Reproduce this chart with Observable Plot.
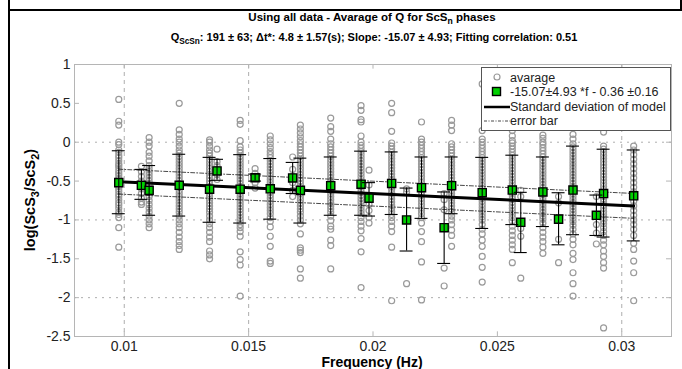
<!DOCTYPE html>
<html><head><meta charset="utf-8">
<script src="https://cdn.jsdelivr.net/npm/d3@7"></script>
<script src="https://cdn.jsdelivr.net/npm/@observablehq/plot@0.6"></script>
<style>
body{margin:0;background:#fff;}
#wrap{position:relative;width:682px;height:369px;overflow:hidden;font-family:"Liberation Sans",Arial,sans-serif;background:#fff;}
.t{position:absolute;white-space:nowrap;font-weight:bold;color:#000;transform:translateX(-50%);}
.t sub{font-size:75%;vertical-align:-0.35em;line-height:0;}
.bar{position:absolute;background:#000;}
#chart{position:absolute;left:0;top:0;}
</style></head><body>
<div id="wrap">
  <div id="chart"></div>
  <div class="bar" style="left:8px;top:0;width:2px;height:369px"></div>
  <div class="bar" style="left:8px;top:9px;width:674px;height:2px"></div>
  <div class="bar" style="left:680px;top:0;width:2px;height:10px"></div>
  <div class="t" style="left:372px;top:11px;font-size:11.5px;line-height:13px">Using all data - Avarage of Q for ScS<sub>n</sub> phases</div>
  <div class="t" style="left:374px;top:31px;font-size:11px;line-height:13px">Q<sub>ScSn</sub>: 191 ± 63; Δt*: 4.8 ± 1.57(s); Slope: -15.07 ± 4.93; Fitting correlation: 0.51</div>
  <div class="t" style="left:372px;top:355px;font-size:14px;line-height:15px">Frequency (Hz)</div>
  <div class="t" style="left:30px;top:200px;font-size:14.5px;line-height:16px;transform:translate(-50%,-50%) rotate(-90deg)">log(ScS<sub>3</sub>/ScS<sub>2</sub>)</div>
  <svg id="legend" style="position:absolute;left:481px;top:67px" width="190" height="64" font-family="Liberation Sans, Arial, sans-serif" font-size="12.5" fill="#222">
    <rect x="0.5" y="0.5" width="189" height="63" fill="#fff" stroke="#555"/>
    <circle cx="16" cy="10" r="3" fill="none" stroke="#999" stroke-width="1.2"/>
    <text x="29" y="14.5">avarage</text>
    <rect x="11.5" y="20.5" width="8" height="8" fill="#00d000" stroke="#000" stroke-width="1.4"/>
    <text x="29" y="29">-15.07±4.93 *f - 0.36 ±0.16</text>
    <line x1="3" x2="29" y1="40" y2="40" stroke="#000" stroke-width="2.5"/>
    <text x="29" y="44">Standard deviation of model</text>
    <line x1="3" x2="29" y1="54" y2="54" stroke="#333" stroke-width="0.9" stroke-dasharray="3,1.5,1,1.5"/>
    <text x="29" y="58">error bar</text>
  </svg>
</div>
<script>
const freqs = [0.00978,0.01069,0.0110,0.01221,0.01343,0.01373,0.01466,0.01526,0.01587,0.01677,0.01708,0.0183,0.01952,0.01984,0.02075,0.02135,0.02195,0.02286,0.02316,0.02439,0.0256,0.02594,0.02683,0.02746,0.02804,0.02898,0.02927,0.03048];
const means = [-0.52,-0.555,-0.62,-0.555,-0.605,-0.37,-0.605,-0.457,-0.60,-0.46,-0.62,-0.56,-0.54,-0.72,-0.53,-1.0,-0.585,-1.10,-0.56,-0.65,-0.615,-1.03,-0.64,-0.99,-0.615,-0.94,-0.66,-0.69];
const errLow = [-0.92,-0.735,-0.94,-0.95,-1.03,-0.49,-1.04,-0.50,-0.99,-0.66,-1.04,-0.94,-0.94,-0.95,-0.93,-1.40,-0.98,-1.56,-0.92,-1.11,-1.06,-1.42,-1.085,-1.32,-1.19,-1.20,-1.22,-1.27];
const errHigh = [-0.11,-0.35,-0.30,-0.155,-0.195,-0.22,-0.16,-0.41,-0.21,-0.26,-0.205,-0.19,-0.115,-0.52,-0.125,-0.59,-0.19,-0.64,-0.19,-0.195,-0.167,-0.645,-0.19,-0.65,-0.05,-0.68,-0.09,-0.10];
const samples = [
  [0.55,0.27,0.22,0.0,-0.03,-0.1,-0.13,-0.17,-0.2,-0.24,-0.28,-0.3,-0.33,-0.37,-0.4,-0.43,-0.47,-0.5,-0.54,-0.57,-0.6,-0.63,-0.67,-0.7,-0.74,-0.78,-0.81,-0.85,-0.9,-0.93,-0.97,-1.1,-1.35],
  [-0.31,-0.38,-0.44,-0.5,-0.55,-0.6,-0.66,-0.72,-0.77,-0.8],
  [0.06,0.0,-0.05,-0.13,-0.18,-0.24,-0.3,-0.34,-0.38,-0.42,-0.46,-0.5,-0.55,-0.6,-0.65,-0.7,-0.75,-0.8,-0.85,-0.9,-0.95,-1.0,-1.05,-1.1],
  [0.5,0.16,0.1,0.04,0.0,-0.05,-0.1,-0.14,-0.18,-0.22,-0.26,-0.3,-0.34,-0.38,-0.42,-0.46,-0.5,-0.54,-0.58,-0.62,-0.66,-0.7,-0.74,-0.78,-0.82,-0.86,-0.9,-0.95,-1.0,-1.05,-1.1,-1.16,-1.22,-1.28,-1.33,-1.38],
  [0.03,0.0,-0.05,-0.1,-0.14,-0.18,-0.22,-0.26,-0.3,-0.34,-0.38,-0.42,-0.46,-0.5,-0.54,-0.58,-0.62,-0.66,-0.7,-0.74,-0.78,-0.82,-0.86,-0.9,-0.95,-1.0,-1.05,-1.1,-1.16,-1.22,-1.28,-1.4,-1.45,-1.5],
  [-0.09,-0.25,-0.3,-0.35,-0.42,-0.48],
  [0.28,0.23,0.02,-0.06,-0.1,-0.14,-0.18,-0.22,-0.26,-0.3,-0.34,-0.38,-0.42,-0.46,-0.5,-0.54,-0.58,-0.62,-0.66,-0.7,-0.74,-0.78,-0.82,-0.86,-0.9,-0.94,-0.98,-1.02,-1.06,-1.1,-1.15,-1.21,-1.41,-1.51,-1.58,-1.98],
  [-0.34,-0.4,-0.46,-0.52,-0.59],
  [0.08,0.03,-0.02,-0.07,-0.12,-0.16,-0.2,-0.24,-0.28,-0.32,-0.36,-0.4,-0.44,-0.48,-0.52,-0.56,-0.6,-0.64,-0.68,-0.72,-0.76,-0.8,-0.84,-0.88,-0.92,-0.97,-1.02,-1.09,-1.21,-1.34,-1.53,-1.56],
  [-0.19,-0.35,-0.44,-0.52,-0.62,-0.7],
  [0.22,0.17,0.12,0.07,0.02,-0.02,-0.06,-0.1,-0.14,-0.18,-0.22,-0.26,-0.3,-0.34,-0.38,-0.42,-0.46,-0.5,-0.54,-0.58,-0.62,-0.66,-0.7,-0.74,-0.78,-0.82,-0.86,-0.9,-0.95,-1.0,-1.05,-1.18,-1.36,-1.39,-1.42,-1.63,-1.75],
  [0.31,0.2,0.14,0.04,-0.02,-0.06,-0.1,-0.14,-0.18,-0.22,-0.26,-0.3,-0.34,-0.38,-0.42,-0.46,-0.5,-0.54,-0.58,-0.62,-0.66,-0.7,-0.74,-0.78,-0.82,-0.86,-0.9,-0.95,-1.01,-1.08,-1.12,-1.26,-1.33,-1.63],
  [0.47,0.41,0.29,0.26,0.08,0.0,-0.04,-0.08,-0.12,-0.16,-0.2,-0.24,-0.28,-0.32,-0.36,-0.4,-0.44,-0.48,-0.52,-0.56,-0.6,-0.64,-0.68,-0.72,-0.76,-0.8,-0.84,-0.88,-0.92,-0.97,-1.02,-1.08,-1.14,-1.24,-1.41,-1.87],
  [-0.36,-0.55,-0.8,-0.88,-0.97,-1.04],
  [0.5,0.38,0.14,-0.01,-0.05,-0.09,-0.13,-0.17,-0.21,-0.25,-0.29,-0.33,-0.37,-0.41,-0.45,-0.49,-0.53,-0.57,-0.61,-0.65,-0.69,-0.73,-0.77,-0.81,-0.85,-0.89,-0.93,-0.97,-1.02,-1.08,-1.15,-1.35,-2.04],
  [-0.6,-0.64,-1.82],
  [0.26,0.04,0.0,-0.04,-0.08,-0.12,-0.16,-0.2,-0.24,-0.28,-0.32,-0.36,-0.4,-0.44,-0.48,-0.52,-0.56,-0.6,-0.64,-0.68,-0.72,-0.76,-0.8,-0.84,-0.88,-0.92,-0.97,-1.04,-1.15,-1.28,-1.54,-2.03],
  [-0.66,-0.74,-0.87,-1.62,-1.85],
  [0.28,0.22,0.15,-0.02,-0.06,-0.1,-0.14,-0.18,-0.22,-0.26,-0.3,-0.34,-0.38,-0.42,-0.46,-0.5,-0.54,-0.58,-0.62,-0.66,-0.7,-0.74,-0.78,-0.82,-0.86,-0.9,-0.95,-1.0,-1.06,-1.13,-1.2,-1.34],
  [0.75,0.15,0.04,0.0,-0.04,-0.08,-0.12,-0.16,-0.2,-0.24,-0.28,-0.32,-0.36,-0.4,-0.44,-0.48,-0.52,-0.56,-0.6,-0.64,-0.68,-0.72,-0.76,-0.8,-0.84,-0.88,-0.92,-0.96,-1.0,-1.06,-1.12,-1.18,-1.26,-1.34,-1.47,-1.61,-1.8],
  [0.27,0.21,0.15,0.08,0.02,-0.01,-0.05,-0.09,-0.13,-0.17,-0.21,-0.25,-0.29,-0.33,-0.37,-0.41,-0.45,-0.49,-0.53,-0.57,-0.61,-0.65,-0.69,-0.73,-0.77,-0.81,-0.85,-0.89,-0.93,-0.97,-1.02,-1.08,-1.14,-1.2,-1.26,-1.32,-1.38,-1.55],
  [-0.62,-0.7,-1.11,-1.21,-1.75],
  [0.09,0.05,0.0,-0.03,-0.07,-0.11,-0.15,-0.19,-0.23,-0.27,-0.31,-0.35,-0.39,-0.43,-0.47,-0.51,-0.55,-0.59,-0.63,-0.67,-0.71,-0.75,-0.79,-0.83,-0.87,-0.91,-0.95,-0.99,-1.04,-1.1,-1.16,-1.22,-1.28,-1.35,-1.43],
  [-0.7,-0.78,-1.25,-1.55],
  [0.1,0.04,-0.02,-0.06,-0.1,-0.14,-0.18,-0.22,-0.26,-0.3,-0.34,-0.38,-0.42,-0.46,-0.5,-0.54,-0.58,-0.62,-0.66,-0.7,-0.74,-0.78,-0.82,-0.86,-0.9,-0.94,-0.98,-1.02,-1.07,-1.12,-1.18,-1.25,-1.32,-1.43,-1.51,-1.68,-1.82,-1.98],
  [-0.7,-1.06,-1.17,-1.31],
  [0.13,-0.05,-0.09,-0.13,-0.17,-0.21,-0.25,-0.29,-0.33,-0.37,-0.41,-0.45,-0.49,-0.53,-0.57,-0.61,-0.65,-0.69,-0.73,-0.77,-0.81,-0.85,-0.89,-0.93,-0.97,-1.01,-1.05,-1.1,-1.15,-1.2,-1.26,-1.32,-1.4,-1.47,-1.55,-1.62,-2.39],
  [-0.05,-0.1,-0.16,-0.22,-0.28,-0.34,-0.4,-0.46,-0.52,-0.58,-0.64,-0.7,-0.76,-0.82,-0.88,-0.94,-1.0,-1.06,-1.12,-1.2,-1.3,-1.38,-1.53,-1.68,-2.04]
];
const xTicks = [0.01,0.015,0.02,0.025,0.03];
const yTicks = [1,0.5,0,-0.5,-1,-1.5,-2,-2.5];
const xGrid = [0.01,0.015,0.03];
const yGrid = [0,-1,-2];
const slope = -15.07, intercept = -0.36, band = 0.16;

const xDom = [0.008,0.032], yDom = [-2.5,1];
const pts = samples.flatMap((vals,i)=>vals.map(v=>({f:freqs[i], v})));
const bins = freqs.map((f,i)=>({f, m:means[i], lo:errLow[i], hi:errHigh[i]}));
const ends = [freqs[0], freqs[freqs.length-1]];
const fit = ends.map(f=>({f, y:slope*f+intercept}));
const fitUp = ends.map(f=>({f, y:slope*f+intercept+band}));
const fitDn = ends.map(f=>({f, y:slope*f+intercept-band}));
const cap = 0.00026, tx = 0.0002, ty = 0.06;
const fmt = d => String(d);

const chart = Plot.plot({
  width: 682, height: 369,
  marginLeft: 74, marginRight: 11, marginTop: 64, marginBottom: 33,
  x: {domain: xDom}, y: {domain: yDom},
  style: {fontFamily: "Liberation Sans, Arial, sans-serif", fontSize: "14px", color: "#222", background: "transparent"},
  marks: [
    Plot.ruleX(xGrid, {stroke: "#999", strokeWidth: 0.8, strokeDasharray: "4,4"}),
    Plot.ruleY(yGrid, {stroke: "#999", strokeWidth: 0.8, strokeDasharray: "2,5"}),
    Plot.frame({stroke: "#b5b5b5"}),
    Plot.ruleY(yTicks, {x1: xDom[0], x2: xDom[0] + tx, stroke: "#b5b5b5"}),
    Plot.ruleY(yTicks, {x1: xDom[1] - tx, x2: xDom[1], stroke: "#b5b5b5"}),
    Plot.ruleX(xTicks, {y1: yDom[0], y2: yDom[0] + ty, stroke: "#b5b5b5"}),
    Plot.ruleX(xTicks, {y1: yDom[1] - ty, y2: yDom[1], stroke: "#b5b5b5"}),
    Plot.axisX(xTicks, {tickSize: 0, tickPadding: 5, tickFormat: fmt, fontSize: 14, label: null}),
    Plot.axisY(yTicks, {tickSize: 0, tickPadding: 4, tickFormat: fmt, fontSize: 14, label: null}),
    Plot.dot(pts, {x: "f", y: "v", r: 3, fill: "none", stroke: "#9a9a9a", strokeWidth: 1.2}),
    Plot.line(fitUp, {x: "f", y: "y", stroke: "#333", strokeWidth: 0.9, strokeDasharray: "4,2,1,2"}),
    Plot.line(fitDn, {x: "f", y: "y", stroke: "#333", strokeWidth: 0.9, strokeDasharray: "4,2,1,2"}),
    Plot.line(fit, {x: "f", y: "y", stroke: "#000", strokeWidth: 3}),
    Plot.dot(bins, {x: "f", y: "m", symbol: "square", r: 4.6, fill: "#00d000", stroke: "#000", strokeWidth: 1.4}),
    Plot.ruleX(bins, {x: "f", y1: "lo", y2: "hi", stroke: "#000", strokeWidth: 1.1}),
    Plot.ruleY(bins, {y: "lo", x1: d => d.f - cap, x2: d => d.f + cap, stroke: "#000", strokeWidth: 1.1}),
    Plot.ruleY(bins, {y: "hi", x1: d => d.f - cap, x2: d => d.f + cap, stroke: "#000", strokeWidth: 1.1})
  ]
});
document.getElementById("chart").appendChild(chart);
</script>
</body></html>
